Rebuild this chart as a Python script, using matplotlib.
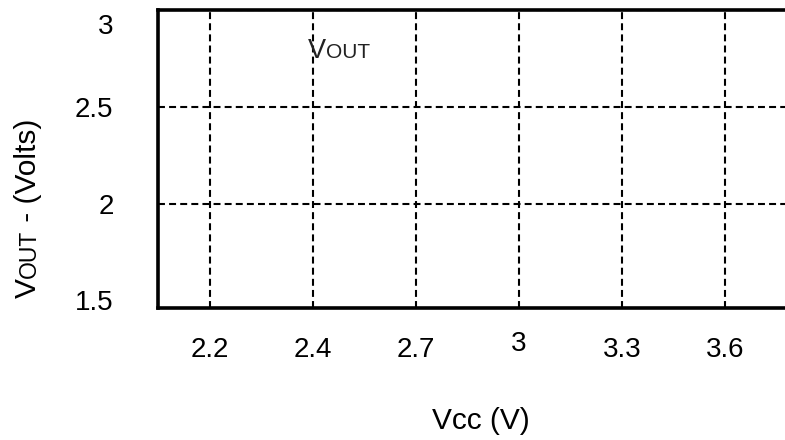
import matplotlib
matplotlib.use("Agg")
import matplotlib.pyplot as plt
import matplotlib.transforms as mtransforms
from matplotlib.text import Annotation

plt.rcParams['font.family'] = ['Liberation Sans', 'DejaVu Sans']
plt.rcParams['lines.scale_dashes'] = False

# data
vcc_labels = ['2.2', '2.4', '2.7', '3', '3.3', '3.6']
vout_ticks = [1.5, 2, 2.5, 3]
vout_tick_labels = ['1.5', '2', '2.5', '3']

W, H = 785, 440
fig = plt.figure(figsize=(W / 100, H / 100), dpi=100)
ax = fig.add_axes([158 / W, 132 / H, (W - 158) / W, 298 / H])

x = list(range(len(vcc_labels)))
ax.set_xticks(x)
ax.set_xticklabels(vcc_labels)
ax.set_yticks(vout_ticks)
ax.set_yticklabels(vout_tick_labels)
ax.set_xlim(-0.5, 5.58)
ax.set_ylim(1.46, 3.0)

ax.tick_params(axis='both', length=0, labelsize=20, colors='black')
ax.tick_params(axis='x', pad=21)
ax.tick_params(axis='y', pad=32)

ax.grid(True, color='black', linestyle=(0, (5, 3)), linewidth=1.5)
ax.yaxis.get_gridlines()[0].set_visible(False)  # no line at 1.5

for s in ['left', 'top', 'bottom']:
    ax.spines[s].set_linewidth(2.6)
    ax.spines[s].set_color('black')
ax.spines['right'].set_visible(False)

# nudge a couple of tick labels like the original
ylabs = ax.get_yticklabels()
ylabs[-1].set_transform(ylabs[-1].get_transform() +
                        mtransforms.ScaledTranslation(0, -14 / 100, fig.dpi_scale_trans))
xlabs = ax.get_xticklabels()
xlabs[3].set_transform(xlabs[3].get_transform() +
                       mtransforms.ScaledTranslation(0, 6 / 100, fig.dpi_scale_trans))

# "VOUT" label inside the plot (small caps)
v = ax.text(0.95, 2.752, 'V', fontsize=19.5, ha='left', va='baseline', color='#222222')
ax.annotate('OUT', xy=(1, 2.752), xycoords=(v, 'data'), fontsize=15,
            ha='left', va='baseline', color='#222222')

# x axis label
fig.text(481 / W, 1 - 421 / H, 'Vcc (V)', fontsize=21.5, ha='center', va='center')

# y axis label with small caps OUT
x0 = 36 / W
y0 = 1 - 298 / H
yv = fig.text(x0, y0, 'V', fontsize=21.5, rotation=90, rotation_mode='anchor',
              ha='left', va='baseline')
ann1 = fig.add_artist(Annotation(
    'OUT', xy=(x0, 1), xycoords=('figure fraction', yv), fontsize=16.5,
    rotation=90, rotation_mode='anchor', ha='left', va='baseline'))
fig.add_artist(Annotation(
    ' - (Volts)', xy=(x0, 1), xycoords=('figure fraction', ann1), fontsize=21.5,
    rotation=90, rotation_mode='anchor', ha='left', va='baseline'))

fig.savefig('out.png', dpi=100)
